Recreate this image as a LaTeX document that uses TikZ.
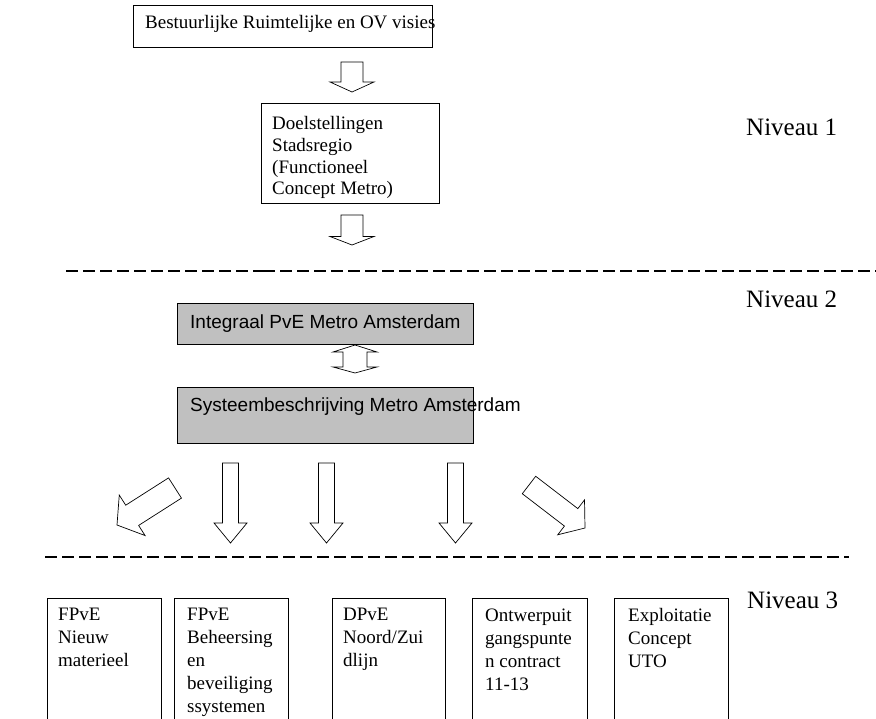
\documentclass[tikz,border=0pt]{standalone}
\usepackage{fontspec}
\setmainfont{Liberation Serif}
\setsansfont{Liberation Sans}
\usetikzlibrary{calc}
\definecolor{boxgrey}{HTML}{C0C0C0}
\newcommand{\blockarr}[5]{%
  \draw[barrow] ($#1!#3!90:#2$) -- ($#2!#5!#1!#3!90:#2$) -- ($#2!#5!#1!#4!90:#2$) -- #2
   -- ($#2!#5!#1!#4!-90:#2$) -- ($#2!#5!#1!#3!-90:#2$) -- ($#1!#3!-90:#2$) -- cycle;}
\begin{document}
\begin{tikzpicture}[x=1pt,y=-1pt,
  box/.style={draw, line width=0.8pt, inner sep=0pt, anchor=north west},
  greybox/.style={box, fill=boxgrey},
  barrow/.style={draw, line width=0.7pt, fill=white, line join=miter},
  stxt/.style={font=\fontsize{19}{21.7}\selectfont, inner sep=0pt, anchor=base west, align=left},
  btxt/.style={font=\fontsize{19}{23}\selectfont, inner sep=0pt, anchor=base west, align=left},
  sans/.style={font=\sffamily\fontsize{19}{22}\selectfont, inner sep=0pt, anchor=base west},
  niv/.style={font=\fontsize{25}{29}\selectfont, inner sep=0pt, anchor=base west},
  dash1/.style={line width=1.2pt, dash pattern=on 11.5pt off 5.5pt},
  dash2/.style={line width=1.7pt, dash pattern=on 11.5pt off 5.5pt},
  dash3/.style={line width=1.5pt, dash pattern=on 12pt off 5pt}]
\useasboundingbox (0,0) rectangle (876,719);
\fill[white] (0,0) rectangle (876,719);

% Level 1
\node[box, minimum width=299, minimum height=42] (visies) at (133,5) {};
\node[stxt] (visiest) at (145,29) {Bestuurlijke Ruimtelijke en OV visies};
\node[box, minimum width=178, minimum height=100] (doel) at (261,103) {};
% base anchor of multi-line node = last line
\node[stxt] (doelt) at (272,195) {Doelstellingen\\Stadsregio\\(Functioneel\\Concept Metro)};

\coordinate (a1t) at (352,62);  \coordinate (a1p) at (352,92);
\blockarr{(a1t)}{(a1p)}{11pt}{22pt}{10pt}
\coordinate (a2t) at (352,215);  \coordinate (a2p) at (352,245);
\blockarr{(a2t)}{(a2p)}{11pt}{22pt}{8.5pt}

\node[niv] (n1) at (746,136) {Niveau 1};

% dashed separators
\coordinate (d1a) at (66,271); \coordinate (d1b) at (263,271); \coordinate (d1c) at (880,271);
\draw[dash1] (d1a) -- (d1b);
\draw[dash2] (d1b) -- (d1c);
\coordinate (d2a) at (45,557); \coordinate (d2b) at (849,557);
\draw[dash3] (d2a) -- (d2b);

% Level 2
\node[greybox, minimum width=296, minimum height=41] (pve) at (177,303) {};
\node[sans] (pvet) at (190,329) {Integraal PvE Metro Amsterdam};
\node[greybox, minimum width=296, minimum height=56] (sys) at (177,387) {};
\node[sans] (syst) at (190,411) {Systeembeschrijving Metro Amsterdam};
\draw[barrow] (355,345) -- (377,352) -- (367,352) -- (367,367) -- (377,367) -- (355,373)
  -- (333,367) -- (343,367) -- (343,352) -- (333,352) -- cycle;
\node[niv] (n2) at (746,308) {Niveau 2};

% fan-out arrows
\coordinate (l1t) at (175,488); \coordinate (l1p) at (117,525);
\blockarr{(l1t)}{(l1p)}{12pt}{24pt}{18pt}
\coordinate (v1t) at (230.5,463); \coordinate (v1p) at (230.5,543);
\blockarr{(v1t)}{(v1p)}{8pt}{16.5pt}{20pt}
\coordinate (v2t) at (326.5,463); \coordinate (v2p) at (326.5,543);
\blockarr{(v2t)}{(v2p)}{8pt}{16.5pt}{20pt}
\coordinate (v3t) at (455.5,463); \coordinate (v3p) at (455.5,543);
\blockarr{(v3t)}{(v3p)}{8pt}{16.5pt}{20pt}
\coordinate (r1t) at (529,485); \coordinate (r1p) at (585,528);
\blockarr{(r1t)}{(r1p)}{11pt}{22pt}{17.5pt}

% Level 3
\node[box, minimum width=114, minimum height=130] (b1) at (47,598) {};
\node[btxt] (b1t) at (58,666) {FPvE\\Nieuw\\materieel};
\node[box, minimum width=114, minimum height=130] (b2) at (174,598) {};
\node[btxt] (b2t) at (187,712) {FPvE\\Beheersing\\en\\beveiliging\\ssystemen};
\node[box, minimum width=113, minimum height=130] (b3) at (332,598) {};
\node[btxt] (b3t) at (343,666) {DPvE\\Noord/Zui\\dlijn};
\node[box, minimum width=115, minimum height=130] (b4) at (472,598) {};
\node[btxt] (b4t) at (485,690) {Ontwerpuit\\gangspunte\\n contract\\11-13};
\node[box, minimum width=114, minimum height=130] (b5) at (614,598) {};
\node[btxt] (b5t) at (628,667) {Exploitatie\\Concept\\UTO};
\node[niv] (n3) at (747,608) {Niveau 3};
\end{tikzpicture}
\end{document}
